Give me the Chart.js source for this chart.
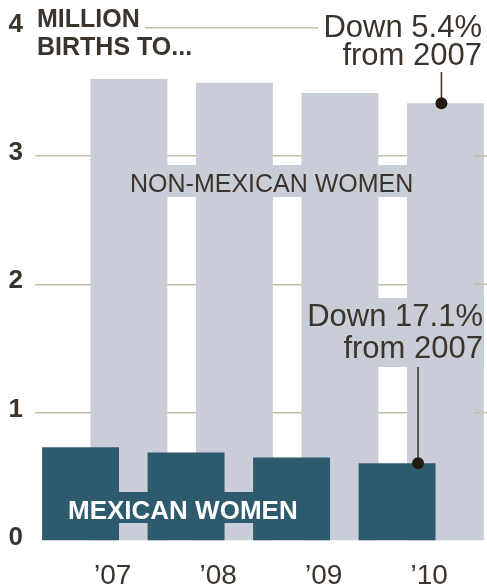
<!DOCTYPE html>
<html>
<head>
<meta charset="utf-8">
<script src="https://cdn.jsdelivr.net/npm/chart.js@4"></script>
<style>
  body { margin: 0; background: #fff; }
  #wrap { width: 487px; height: 586px; }
</style>
</head>
<body>
<div id="wrap"><canvas id="myChart" width="487" height="586"></canvas></div>
<script>
// data
const years = ['\u201907', '\u201908', '\u201909', '\u201910'];
const mexicanWomen = [0.73, 0.69, 0.65, 0.605];
const nonMexicanWomen = [3.60, 3.57, 3.49, 3.41];
const yTicks = [0, 1, 2, 3, 4];

const tealColor = '#2d5a6d';
const greyColor = '#c9cdd7';
const gridColor = '#c3bf9f';
const textColor = '#3a342c';
const font = 'Liberation Sans, Arial, sans-serif';

const data = {
  labels: years,
  datasets: [{
    label: 'Mexican women',
    data: mexicanWomen,
    backgroundColor: tealColor,
    categoryPercentage: 0.917,
    barPercentage: 1.59,
    clip: false
  }, {
    label: 'Non-Mexican women',
    data: nonMexicanWomen,
    backgroundColor: greyColor,
    categoryPercentage: 0.917,
    barPercentage: 1.59,
    clip: false
  }]
};

// labels, leaders, grid extension
const labelsPlugin = {
  id: 'labelsPlugin',
  afterDraw(chart) {
    const {ctx, chartArea, scales: {y}} = chart;
    const teal = chart.getDatasetMeta(0).data;
    const grey = chart.getDatasetMeta(1).data;
    ctx.save();

    // grid runs to the right edge
    ctx.strokeStyle = gridColor;
    ctx.lineWidth = 1.5;
    yTicks.forEach(v => {
      if (v === 0) return;
      const py = y.getPixelForValue(v);
      ctx.beginPath();
      ctx.moveTo(chartArea.right, py);
      ctx.lineTo(chart.width, py);
      ctx.stroke();
    });

    // title
    ctx.fillStyle = '#fff';
    ctx.fillRect(34, 0, 111, 38);
    ctx.fillStyle = textColor;
    ctx.font = 'bold 25px ' + font;
    ctx.textAlign = 'left';
    ctx.textBaseline = 'alphabetic';
    ctx.fillText('MILLION', 37, 27);
    ctx.fillText('BIRTHS TO...', 37, 55);

    // non-mexican label
    ctx.fillStyle = greyColor;
    ctx.fillRect(125, 165, 297, 32);
    ctx.fillStyle = textColor;
    ctx.font = '25px ' + font;
    ctx.fillText('NON-MEXICAN WOMEN', 130, 192);

    // mexican label
    ctx.fillStyle = tealColor;
    ctx.fillRect(60, 492, 245, 31);
    ctx.fillStyle = '#fff';
    ctx.font = 'bold 26px ' + font;
    ctx.fillText('MEXICAN WOMEN', 68, 519);

    // top note
    ctx.fillStyle = '#fff';
    ctx.fillRect(318, 0, 169, 70);
    ctx.fillStyle = textColor;
    ctx.font = '31px ' + font;
    ctx.textAlign = 'right';
    ctx.fillText('Down 5.4%', 482, 37);
    ctx.fillText('from 2007', 482, 65);

    // lower note
    ctx.fillStyle = greyColor;
    ctx.fillRect(304, 298, 180, 69);
    ctx.fillStyle = textColor;
    ctx.fillText('Down 17.1%', 483, 326);
    ctx.fillText('from 2007', 483, 358);

    // leaders and dots
    const g = grey[3], t = teal[3];
    const dots = [[g.x - 4, 72, g.y], [t.x + 21, 367, t.y]];
    ctx.strokeStyle = '#3a3028';
    ctx.fillStyle = '#231a12';
    ctx.lineWidth = 1.5;
    dots.forEach(([px, from, to]) => {
      ctx.beginPath();
      ctx.moveTo(px, from);
      ctx.lineTo(px, to);
      ctx.stroke();
      ctx.beginPath();
      ctx.arc(px, to, 6, 0, Math.PI * 2);
      ctx.fill();
    });
    ctx.restore();
  }
};

const config = {
  type: 'bar',
  data,
  options: {
    responsive: false,
    animation: false,
    layout: { padding: { top: 19, right: 13, left: 0, bottom: 0 } },
    plugins: {
      legend: { display: false },
      tooltip: { enabled: false }
    },
    scales: {
      x: {
        grid: { display: false },
        border: { display: false },
        ticks: {
          color: textColor,
          font: { family: font, size: 28 },
          padding: 10,
          labelOffset: 8
        },
        afterFit(scale) { scale.height = 45; }
      },
      y: {
        min: 0,
        max: 4,
        z: 1,
        afterBuildTicks(scale) { scale.ticks = yTicks.map(v => ({ value: v })); },
        grid: {
          color: ctx => ctx.tick && ctx.tick.value === 0 ? 'rgba(0,0,0,0)' : gridColor,
          lineWidth: 1.5,
          tickLength: 17
        },
        border: { display: false },
        ticks: {
          color: textColor,
          font: { family: font, size: 26, weight: 'bold' },
          padding: 12,
          labelOffset: -3
        },
        afterFit(scale) { scale.width = 52; }
      }
    }
  },
  plugins: [labelsPlugin]
};

const myChart = new Chart(
  document.getElementById('myChart'),
  config
);
</script>
</body>
</html>
